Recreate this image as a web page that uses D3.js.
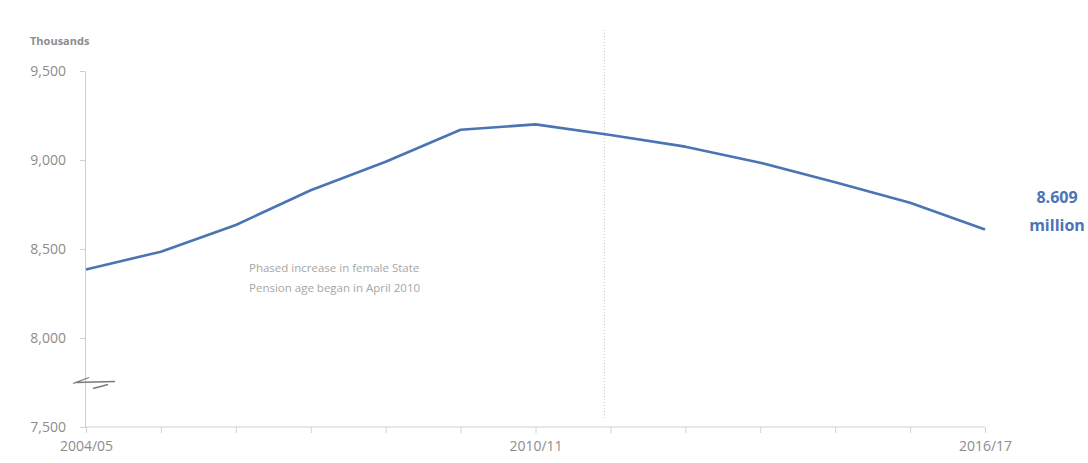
<!DOCTYPE html>
<html>
<head>
<meta charset="utf-8">
<script src="https://d3js.org/d3.v7.min.js"></script>
<style>
  body { margin: 0; background: #fff; }
  svg text { font-family: "Open Sans", "DejaVu Sans", sans-serif; }
</style>
</head>
<body>
<svg id="chart"></svg>
<script>
// financial years, thousands of people
const years = ['2004/05', '2005/06', '2006/07', '2007/08', '2008/09', '2009/10', '2010/11',
  '2011/12', '2012/13', '2013/14', '2014/15', '2015/16', '2016/17'];
const pensioners = [8385, 8485, 8635, 8830, 8990, 9170, 9200, 9140, 9075, 8985, 8875, 8760, 8609];
const yTicks = [7500, 8000, 8500, 9000, 9500];
const xLabels = ['2004/05', '2010/11', '2016/17'];
const spaEvent = 6.92; // roughly where the SPA change line sits, in year-index units

main();

function main() {
  let width = 1088, height = 463,
    margin = {top: 71, right: 103, bottom: 36, left: 86};

  let svg = d3.select('#chart').attr('width', width).attr('height', height);

  let x = d3.scaleLinear()
      .domain([0, years.length - 1])
      .range([margin.left, width - margin.right]),
    y = d3.scaleLinear()
      .domain([7500, 9500])
      .range([height - margin.bottom, margin.top]);

  let grey = '#8c8c8c', axisGrey = '#d0d0d0', blue = '#4a74b4';

  svg.append('text')
    .attr('x', 30).attr('y', 45)
    .attr('fill', grey)
    .style('font-size', '11px').style('font-weight', 'bold')
    .text('Thousands');

  // y axis
  let yAxis = svg.append('g')
    .attr('transform', `translate(${margin.left - 1},0)`)
    .call(d3.axisLeft(y).tickValues(yTicks).tickSize(5).tickPadding(14).tickFormat(d3.format(',')));
  yAxis.selectAll('path, line').attr('stroke', axisGrey);
  yAxis.selectAll('text').attr('fill', grey).style('font-size', '14px');

  // x axis, tick at every year, labels only on a few
  let xAxis = svg.append('g')
    .attr('transform', `translate(0,${y(7500)})`)
    .call(d3.axisBottom(x).tickValues(d3.range(years.length)).tickSize(6).tickPadding(8)
      .tickFormat(i => xLabels.includes(years[i]) ? years[i] : ''));
  xAxis.select('.domain').attr('d', `M${margin.left - 1},0H${x(years.length - 1)}`);
  xAxis.selectAll('path, line').attr('stroke', axisGrey);
  xAxis.selectAll('text').attr('fill', grey).style('font-size', '14px');

  // axis break mark
  let by = y(7750), bx = margin.left;
  svg.append('path')
    .attr('d', `M${bx - 13},${by + 1}L${bx + 3},${by - 5}M${bx - 11},${by}L${bx + 29},${by - 1}M${bx + 7},${by + 6}L${bx + 22},${by + 2}`)
    .attr('fill', 'none').attr('stroke', '#7a7a7a').attr('stroke-width', 1.3);

  // dotted line for SPA change
  svg.append('line')
    .attr('x1', x(spaEvent)).attr('x2', x(spaEvent))
    .attr('y1', 30).attr('y2', y(7500) - 8)
    .attr('stroke', '#c8c8c8').attr('stroke-width', 1)
    .attr('stroke-dasharray', '1,2');

  svg.append('text')
    .attr('x', 249).attr('y', 272)
    .attr('fill', '#a6a6a6').style('font-size', '11.5px')
    .selectAll('tspan')
    .data(['Phased increase in female State', 'Pension age began in April 2010'])
    .join('tspan')
    .attr('x', 249).attr('dy', (d, i) => i ? 20 : 0)
    .text(d => d);

  svg.append('path')
    .datum(pensioners)
    .attr('fill', 'none')
    .attr('stroke', blue)
    .attr('stroke-width', 2.6)
    .attr('stroke-linejoin', 'round')
    .attr('d', d3.line().x((d, i) => x(i)).y(d => y(d)));

  let last = pensioners[pensioners.length - 1];
  svg.append('text')
    .attr('x', 1057).attr('y', y(last) - 27)
    .attr('text-anchor', 'middle')
    .attr('fill', blue)
    .style('font-size', '16px').style('font-weight', 'bold')
    .selectAll('tspan')
    .data([d3.format('.3f')(last / 1000), 'million'])
    .join('tspan')
    .attr('x', 1057).attr('dy', (d, i) => i ? 28 : 0)
    .text(d => d);
}
</script>
</body>
</html>
